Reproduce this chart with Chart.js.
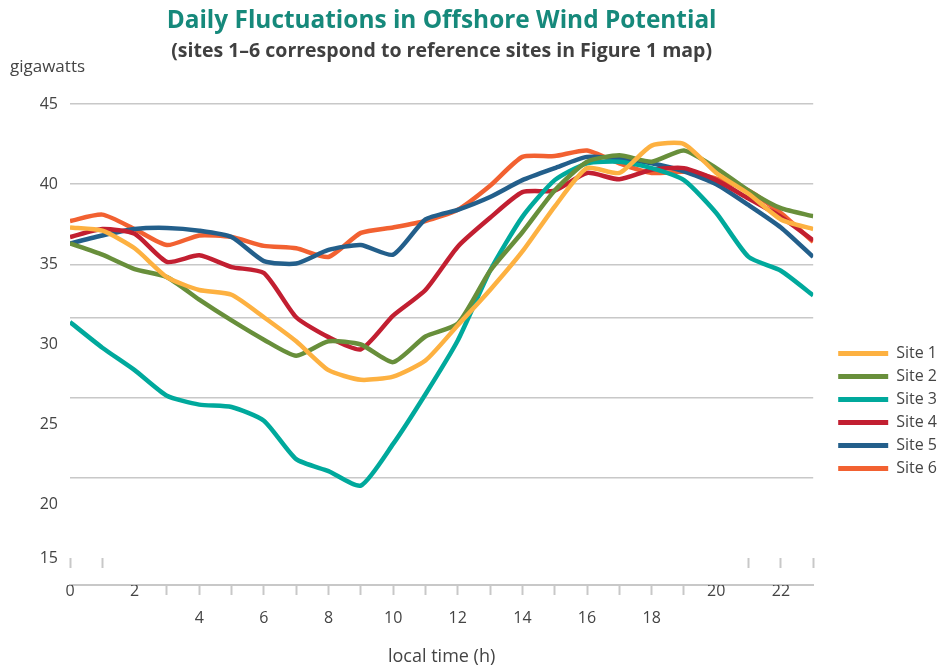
<!DOCTYPE html>
<html>
<head>
<meta charset="utf-8">
<script src="https://cdn.jsdelivr.net/npm/chart.js@4.4.0/dist/chart.umd.min.js"></script>
<style>
  html, body { margin: 0; padding: 0; background: #ffffff; }
  #wrap { width: 950px; height: 669px; }
</style>
</head>
<body>
<div id="wrap"><canvas id="c" width="950" height="669"></canvas></div>
<script>
// ---------------- data ----------------
const hours = [0,1,2,3,4,5,6,7,8,9,10,11,12,13,14,15,16,17,18,19,20,21,22,23];
const site1 = [37.3,37.1,36.0,34.2,33.4,33.1,31.7,30.2,28.4,27.8,28.0,29.0,31.2,33.4,35.8,38.6,41.0,40.7,42.4,42.5,40.7,39.4,37.8,37.2];
const site2 = [36.3,35.6,34.7,34.2,32.8,31.5,30.3,29.3,30.2,30.0,28.9,30.5,31.3,34.6,37.0,39.6,41.4,41.8,41.4,42.1,41.0,39.6,38.5,38.0];
const site3 = [31.4,29.8,28.4,26.8,26.25,26.1,25.25,22.85,22.1,21.2,23.8,26.9,30.25,34.6,37.96,40.25,41.3,41.4,41.0,40.25,38.2,35.46,34.6,33.06];
const site4 = [36.7,37.2,36.9,35.15,35.56,34.83,34.46,31.7,30.46,29.7,31.8,33.4,36.1,37.9,39.5,39.6,40.7,40.3,40.9,41.0,40.25,39.1,37.96,36.5];
const site5 = [36.3,36.8,37.2,37.27,37.1,36.7,35.2,35.05,35.9,36.2,35.6,37.8,38.4,39.2,40.25,41.0,41.7,41.6,41.3,40.8,40.0,38.7,37.3,35.46];
const site6 = [37.7,38.1,37.2,36.2,36.8,36.7,36.15,36.0,35.46,36.96,37.3,37.7,38.4,39.9,41.7,41.75,42.1,41.3,40.7,40.77,40.35,39.6,38.2,36.4];
const seriesNames = ['Site 1','Site 2','Site 3','Site 4','Site 5','Site 6'];
const seriesValues = [site1, site2, site3, site4, site5, site6];
const yTickValues = [45, 40, 35, 30, 25, 20, 15];
const xTickValues = [0, 2, 4, 6, 8, 10, 12, 14, 16, 18, 20, 22];

// ---------------- styling ----------------
const seriesColors = ['#fdb141', '#688f3b', '#00a99c', '#c21f31', '#235f8b', '#f26131'];
const FONT = "'Open Sans', 'Noto Sans', sans-serif";
const TEXT = '#444444';
const GRID = '#c8c8c8';
const CLEAR = 'rgba(0,0,0,0)';
const SHIFT = 27 / 16;              // displaced lower gridlines / labels
const raisedX = [0, 2, 20, 22];      // x labels that sit on the axis line
const tickMarksLow = [3, 19];        // range of tick marks below axis
const tickMarksHigh = [0, 1, 21, 22, 23];

Chart.defaults.font.family = FONT;

const datasets = seriesNames.map((name, i) => ({
  label: name,
  data: hours.map((h, k) => ({ x: h, y: seriesValues[i][k] })),
  borderColor: seriesColors[i],
  backgroundColor: seriesColors[i],
  borderWidth: 4.5,
  pointRadius: 0,
  pointHoverRadius: 0,
  tension: 0.2,
  fill: false
}));

function buildYTicks(scale) {
  const t = [];
  yTickValues.forEach(v => {
    if (v >= 35) t.push({ value: v, _lab: String(v), _grid: true });
    else if (v > 15) {
      t.push({ value: v, _lab: String(v), _grid: false });
      t.push({ value: v + SHIFT, _lab: '', _grid: true });
    } else {
      t.push({ value: v + SHIFT, _lab: String(v), _grid: false });
    }
  });
  scale.ticks = t;
}

const gigawattsPlugin = {
  id: 'unitLabel',
  afterDraw(chart) {
    const ctx = chart.ctx;
    ctx.save();
    ctx.font = "17px " + FONT;
    ctx.fillStyle = TEXT;
    ctx.textAlign = 'left';
    ctx.textBaseline = 'middle';
    ctx.fillText('gigawatts', chart.scales.y.left + 10, chart.chartArea.top - 37);
    ctx.restore();
  }
};

new Chart(document.getElementById('c'), {
  type: 'line',
  data: { datasets },
  plugins: [gigawattsPlugin],
  options: {
    responsive: false,
    animation: false,
    devicePixelRatio: 1,
    layout: { padding: { left: 0, right: 3, top: 0, bottom: 0 } },
    plugins: {
      title: {
        display: true, fullSize: false,
        text: 'Daily Fluctuations in Offshore Wind Potential',
        color: '#16897b',
        font: { size: 24.4, weight: 'bold', family: FONT },
        padding: { top: 6, bottom: 2 }
      },
      subtitle: {
        display: true, fullSize: false,
        text: '(sites 1–6 correspond to reference sites in Figure 1 map)',
        color: '#404040',
        font: { size: 19.5, weight: 'bold', family: FONT },
        padding: { top: 2, bottom: 41.3 }
      },
      legend: {
        position: 'right',
        align: 'start',
        title: { display: true, text: '', font: { size: 10 }, padding: { top: 0, bottom: 326.5 } },
        labels: {
          boxWidth: 50, boxHeight: 5, padding: 7, color: TEXT,
          font: { size: 16, family: FONT },
          generateLabels(chart) {
            return Chart.defaults.plugins.legend.labels.generateLabels(chart).map(it => ({
              ...it, lineWidth: 0, fillStyle: it.strokeStyle
            }));
          }
        }
      },
      tooltip: { enabled: false }
    },
    scales: {
      x: {
        type: 'linear', min: 0, max: 23,
        afterBuildTicks: s => { s.ticks = hours.map(h => ({ value: h })); },
        ticks: {
          autoSkip: false, maxRotation: 0, minRotation: 0,
          padding: -17.5, color: TEXT,
          font: { size: 16, family: FONT, lineHeight: '27px' },
          callback: v => {
            if (!xTickValues.includes(v)) return '';
            return raisedX.includes(v) ? String(v) : ['', String(v)];
          }
        },
        grid: {
          drawOnChartArea: false, drawTicks: true, tickLength: 10, tickWidth: 2,
          tickColor: c => (c.tick && c.tick.value >= tickMarksLow[0] && c.tick.value <= tickMarksLow[1]) ? GRID : CLEAR
        },
        border: { display: true, color: GRID, width: 2 },
        title: {
          display: true, text: 'local time (h)', color: TEXT,
          font: { size: 18, family: FONT },
          padding: { top: 32.2, bottom: 1.2 }
        }
      },
      x2: {
        type: 'linear', axis: 'x', min: 0, max: 23,
        position: { y: 15 + SHIFT * 0.98 },
        afterBuildTicks: s => { s.ticks = hours.map(h => ({ value: h })); },
        ticks: { display: false },
        grid: {
          drawOnChartArea: false, drawTicks: true, tickLength: 10, tickWidth: 2,
          tickColor: c => (c.tick && tickMarksHigh.includes(c.tick.value)) ? GRID : CLEAR
        },
        border: { display: false }
      },
      y: {
        type: 'linear', min: 15, max: 45,
        afterBuildTicks: buildYTicks,
        afterFit: s => { s.width = 70; },
        ticks: {
          autoSkip: false, padding: 12, color: TEXT,
          font: { size: 16, family: FONT },
          callback: function (v, i, t) { return t[i] && t[i]._lab !== undefined ? t[i]._lab : ''; }
        },
        grid: {
          drawTicks: false, lineWidth: 1.5,
          color: c => (c.tick && c.tick._grid) ? GRID : CLEAR
        },
        border: { display: false }
      },
      yR: {
        type: 'linear', position: 'right', display: true,
        afterFit: s => { s.width = 18; },
        ticks: { display: false },
        grid: { display: false },
        border: { display: false }
      }
    }
  }
});
</script>
</body>
</html>
